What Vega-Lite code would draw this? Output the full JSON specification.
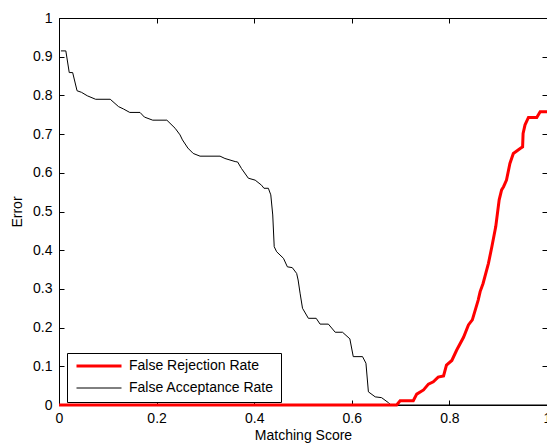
{
  "$schema": "https://vega.github.io/schema/vega-lite/v6.json",
  "width": 488,
  "height": 387,
  "autosize": {"type": "none"},
  "padding": {"left": 59, "top": 18, "right": 0, "bottom": 40},
  "background": "white",
  "config": {
    "view": {"stroke": "black", "strokeWidth": 1},
    "font": "Liberation Sans",
    "axis": {
      "domain": false,
      "grid": false,
      "tickColor": "black",
      "tickSize": -5,
      "tickWidth": 1,
      "labelFont": "Liberation Sans",
      "labelFontSize": 14,
      "labelColor": "black",
      "titleFont": "Liberation Sans",
      "titleFontSize": 14,
      "titleFontWeight": "normal",
      "titleColor": "black",
      "labelFlush": false,
      "labelOverlap": false
    },
    "legend": {
      "labelFont": "Liberation Sans",
      "labelFontSize": 14,
      "labelColor": "black"
    }
  },
  "data": {
    "values": [
      {"series": "False Acceptance Rate", "score": 0.004, "error": 0.915},
      {"series": "False Acceptance Rate", "score": 0.014, "error": 0.915},
      {"series": "False Acceptance Rate", "score": 0.021, "error": 0.859},
      {"series": "False Acceptance Rate", "score": 0.028, "error": 0.859},
      {"series": "False Acceptance Rate", "score": 0.037, "error": 0.812},
      {"series": "False Acceptance Rate", "score": 0.046, "error": 0.808},
      {"series": "False Acceptance Rate", "score": 0.058, "error": 0.799},
      {"series": "False Acceptance Rate", "score": 0.075, "error": 0.79},
      {"series": "False Acceptance Rate", "score": 0.105, "error": 0.79},
      {"series": "False Acceptance Rate", "score": 0.122, "error": 0.771},
      {"series": "False Acceptance Rate", "score": 0.132, "error": 0.765},
      {"series": "False Acceptance Rate", "score": 0.145, "error": 0.756},
      {"series": "False Acceptance Rate", "score": 0.166, "error": 0.756},
      {"series": "False Acceptance Rate", "score": 0.175, "error": 0.744},
      {"series": "False Acceptance Rate", "score": 0.192, "error": 0.736},
      {"series": "False Acceptance Rate", "score": 0.221, "error": 0.736},
      {"series": "False Acceptance Rate", "score": 0.238, "error": 0.715},
      {"series": "False Acceptance Rate", "score": 0.248, "error": 0.698},
      {"series": "False Acceptance Rate", "score": 0.253, "error": 0.685},
      {"series": "False Acceptance Rate", "score": 0.264, "error": 0.664},
      {"series": "False Acceptance Rate", "score": 0.275, "error": 0.65},
      {"series": "False Acceptance Rate", "score": 0.289, "error": 0.643},
      {"series": "False Acceptance Rate", "score": 0.33, "error": 0.643},
      {"series": "False Acceptance Rate", "score": 0.34, "error": 0.637},
      {"series": "False Acceptance Rate", "score": 0.361, "error": 0.629},
      {"series": "False Acceptance Rate", "score": 0.366, "error": 0.628},
      {"series": "False Acceptance Rate", "score": 0.374, "error": 0.611},
      {"series": "False Acceptance Rate", "score": 0.388, "error": 0.586},
      {"series": "False Acceptance Rate", "score": 0.402, "error": 0.581},
      {"series": "False Acceptance Rate", "score": 0.415, "error": 0.568},
      {"series": "False Acceptance Rate", "score": 0.42, "error": 0.56},
      {"series": "False Acceptance Rate", "score": 0.429, "error": 0.56},
      {"series": "False Acceptance Rate", "score": 0.434, "error": 0.543},
      {"series": "False Acceptance Rate", "score": 0.438, "error": 0.491},
      {"series": "False Acceptance Rate", "score": 0.441, "error": 0.409},
      {"series": "False Acceptance Rate", "score": 0.446, "error": 0.396},
      {"series": "False Acceptance Rate", "score": 0.46, "error": 0.379},
      {"series": "False Acceptance Rate", "score": 0.468, "error": 0.357},
      {"series": "False Acceptance Rate", "score": 0.478, "error": 0.355},
      {"series": "False Acceptance Rate", "score": 0.487, "error": 0.34},
      {"series": "False Acceptance Rate", "score": 0.49, "error": 0.323},
      {"series": "False Acceptance Rate", "score": 0.494, "error": 0.289},
      {"series": "False Acceptance Rate", "score": 0.499, "error": 0.25},
      {"series": "False Acceptance Rate", "score": 0.511, "error": 0.224},
      {"series": "False Acceptance Rate", "score": 0.527, "error": 0.224},
      {"series": "False Acceptance Rate", "score": 0.535, "error": 0.209},
      {"series": "False Acceptance Rate", "score": 0.552, "error": 0.209},
      {"series": "False Acceptance Rate", "score": 0.566, "error": 0.188},
      {"series": "False Acceptance Rate", "score": 0.581, "error": 0.188},
      {"series": "False Acceptance Rate", "score": 0.596, "error": 0.171},
      {"series": "False Acceptance Rate", "score": 0.603, "error": 0.125},
      {"series": "False Acceptance Rate", "score": 0.622, "error": 0.125},
      {"series": "False Acceptance Rate", "score": 0.629, "error": 0.108},
      {"series": "False Acceptance Rate", "score": 0.634, "error": 0.034},
      {"series": "False Acceptance Rate", "score": 0.648, "error": 0.021},
      {"series": "False Acceptance Rate", "score": 0.661, "error": 0.019},
      {"series": "False Acceptance Rate", "score": 0.675, "error": 0.006},
      {"series": "False Acceptance Rate", "score": 0.68, "error": 0},
      {"series": "False Acceptance Rate", "score": 1.0, "error": 0},
      {"series": "False Rejection Rate", "score": 0.0, "error": 0},
      {"series": "False Rejection Rate", "score": 0.692, "error": 0},
      {"series": "False Rejection Rate", "score": 0.699, "error": 0.011},
      {"series": "False Rejection Rate", "score": 0.726, "error": 0.011},
      {"series": "False Rejection Rate", "score": 0.733, "error": 0.028},
      {"series": "False Rejection Rate", "score": 0.747, "error": 0.039},
      {"series": "False Rejection Rate", "score": 0.757, "error": 0.054},
      {"series": "False Rejection Rate", "score": 0.767, "error": 0.06},
      {"series": "False Rejection Rate", "score": 0.777, "error": 0.072},
      {"series": "False Rejection Rate", "score": 0.788, "error": 0.075},
      {"series": "False Rejection Rate", "score": 0.794, "error": 0.103},
      {"series": "False Rejection Rate", "score": 0.805, "error": 0.115},
      {"series": "False Rejection Rate", "score": 0.815, "error": 0.142},
      {"series": "False Rejection Rate", "score": 0.829, "error": 0.175},
      {"series": "False Rejection Rate", "score": 0.839, "error": 0.207},
      {"series": "False Rejection Rate", "score": 0.847, "error": 0.22},
      {"series": "False Rejection Rate", "score": 0.859, "error": 0.271},
      {"series": "False Rejection Rate", "score": 0.863, "error": 0.293},
      {"series": "False Rejection Rate", "score": 0.869, "error": 0.314},
      {"series": "False Rejection Rate", "score": 0.88, "error": 0.366},
      {"series": "False Rejection Rate", "score": 0.887, "error": 0.409},
      {"series": "False Rejection Rate", "score": 0.895, "error": 0.461},
      {"series": "False Rejection Rate", "score": 0.902, "error": 0.53},
      {"series": "False Rejection Rate", "score": 0.907, "error": 0.556},
      {"series": "False Rejection Rate", "score": 0.911, "error": 0.564},
      {"series": "False Rejection Rate", "score": 0.917, "error": 0.581},
      {"series": "False Rejection Rate", "score": 0.924, "error": 0.624},
      {"series": "False Rejection Rate", "score": 0.931, "error": 0.65},
      {"series": "False Rejection Rate", "score": 0.945, "error": 0.663},
      {"series": "False Rejection Rate", "score": 0.95, "error": 0.667},
      {"series": "False Rejection Rate", "score": 0.951, "error": 0.702},
      {"series": "False Rejection Rate", "score": 0.955, "error": 0.724},
      {"series": "False Rejection Rate", "score": 0.962, "error": 0.743},
      {"series": "False Rejection Rate", "score": 0.979, "error": 0.743},
      {"series": "False Rejection Rate", "score": 0.986, "error": 0.758},
      {"series": "False Rejection Rate", "score": 1.0, "error": 0.758}
    ]
  },
  "resolve": {"axis": {"x": "independent", "y": "independent"}},
  "layer": [
    {
      "mark": {"type": "line", "strokeCap": "butt"},
      "encoding": {
        "x": {
          "field": "score", "type": "quantitative",
          "scale": {"domain": [0, 1], "nice": false, "zero": false},
          "axis": {"orient": "bottom", "title": "Matching Score", "values": [0, 0.2, 0.4, 0.6, 0.8, 1], "format": "~g", "labelPadding": 11, "titlePadding": 3}
        },
        "y": {
          "field": "error", "type": "quantitative",
          "scale": {"domain": [0, 1], "nice": false, "zero": false},
          "axis": {"orient": "left", "title": "Error", "values": [0, 0.1, 0.2, 0.3, 0.4, 0.5, 0.6, 0.7, 0.8, 0.9, 1], "format": "~g", "labelPadding": 12, "titlePadding": 8}
        },
        "color": {
          "field": "series", "type": "nominal",
          "scale": {"domain": ["False Rejection Rate", "False Acceptance Rate"], "range": ["#ff0000", "#000000"]},
          "legend": {
            "title": null,
            "orient": "none",
            "legendX": 8,
            "legendY": 335,
            "symbolType": "stroke",
            "symbolSize": 2025,
            "clipHeight": 12,
            "rowPadding": 8,
            "padding": 7,
            "symbolOffset": 1,
            "labelOffset": 6,
            "strokeColor": "black",
            "fillColor": "white"
          }
        },
        "strokeWidth": {
          "field": "series", "type": "nominal",
          "scale": {"domain": ["False Rejection Rate", "False Acceptance Rate"], "range": [3, 1]},
          "legend": {
            "title": null,
            "orient": "none",
            "legendX": 8,
            "legendY": 335,
            "symbolType": "stroke",
            "symbolSize": 2025,
            "clipHeight": 12,
            "rowPadding": 8,
            "padding": 7,
            "symbolOffset": 1,
            "labelOffset": 6,
            "strokeColor": "black",
            "fillColor": "white"
          }
        }
      }
    },
    {
      "mark": {"type": "line", "opacity": 0},
      "encoding": {
        "x": {
          "field": "score", "type": "quantitative",
          "axis": {"orient": "top", "title": null, "labels": false, "values": [0, 0.2, 0.4, 0.6, 0.8, 1]}
        },
        "y": {
          "field": "error", "type": "quantitative",
          "axis": {"orient": "right", "title": null, "labels": false, "values": [0, 0.1, 0.2, 0.3, 0.4, 0.5, 0.6, 0.7, 0.8, 0.9, 1]}
        },
        "detail": {"field": "series"}
      }
    }
  ]
}
